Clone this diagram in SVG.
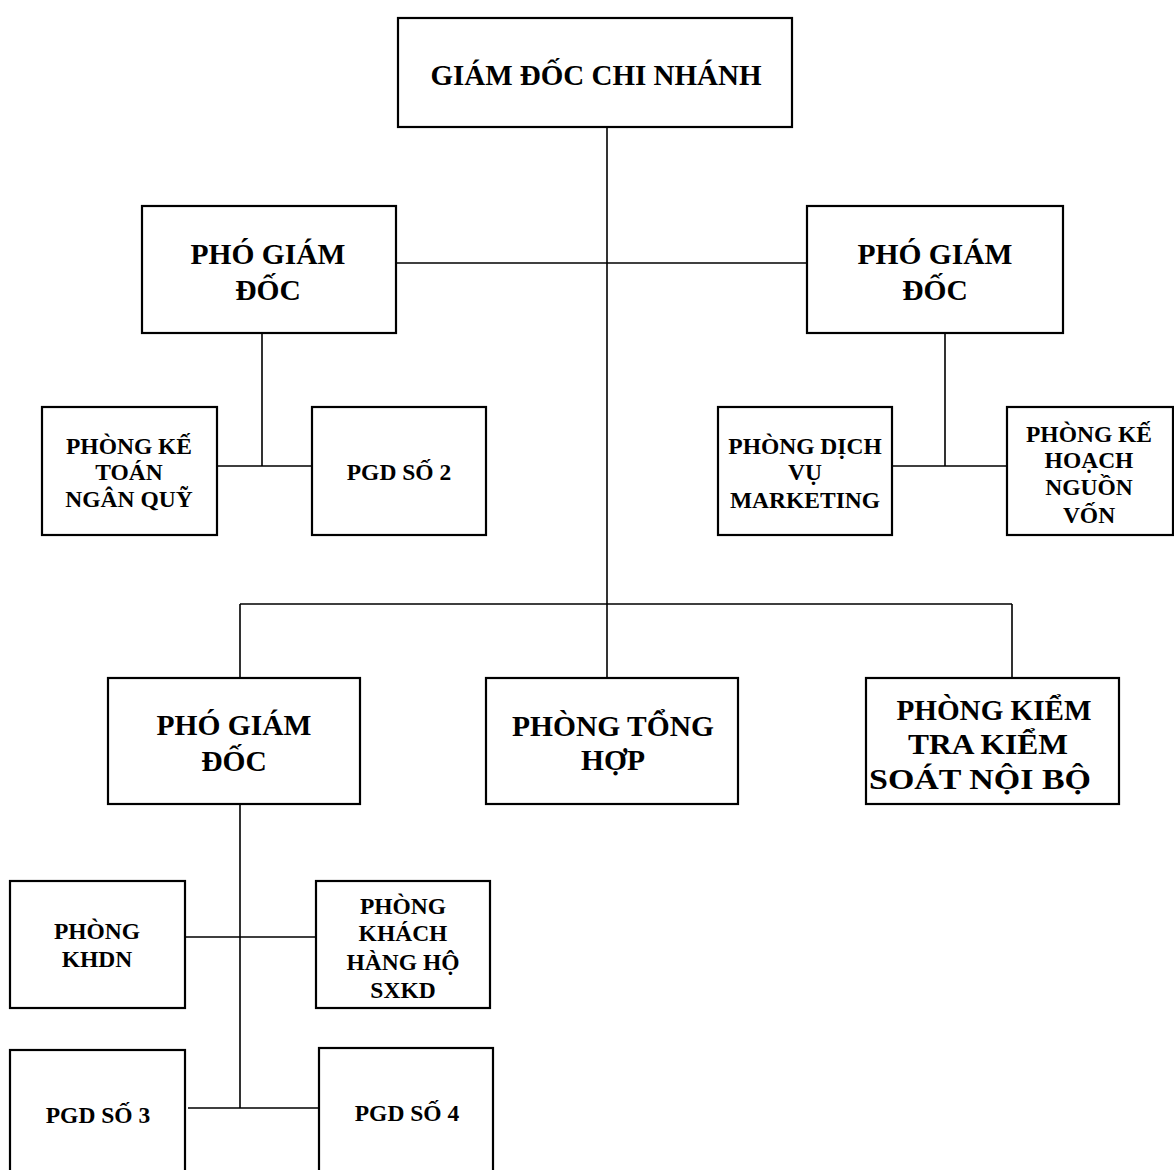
<svg xmlns="http://www.w3.org/2000/svg" width="1174" height="1170" viewBox="0 0 1174 1170">
<style>
.box{fill:#fff;stroke:#000;stroke-width:2.2}
.ln{stroke:#000;stroke-width:1.6;fill:none}
text{font-family:"Liberation Serif","Times New Roman",serif;font-weight:bold;fill:#000;text-anchor:middle}
.t26{font-size:29px}
.t28{font-size:29.5px}
.t20{font-size:23.5px}
</style>
<rect width="1174" height="1170" fill="#fff"/>
<g id="connectors">
<path class="ln" d="M607 127V678"/>
<path class="ln" d="M396 263H807"/>
<path class="ln" d="M262 333V466M217 466H312"/>
<path class="ln" d="M945 333V466M892 466H1007"/>
<path class="ln" d="M240 604H1012M240 604V678M1012 604V678"/>
<path class="ln" d="M240 804V1108M185 937H316M188 1108H320"/>
</g>
<g id="gd"><rect class="box" x="398" y="18" width="394" height="109"/><text class="t26" x="596" y="85">GIÁM ĐỐC CHI NHÁNH</text></g>
<g id="pgd1"><rect class="box" x="142" y="206" width="254" height="127"/><text class="t28" x="268" y="264">PHÓ GIÁM</text><text class="t28" x="268" y="300">ĐỐC</text></g>
<g id="pgd2"><rect class="box" x="807" y="206" width="256" height="127"/><text class="t28" x="935" y="264">PHÓ GIÁM</text><text class="t28" x="935" y="300">ĐỐC</text></g>
<g id="ketoan"><rect class="box" x="42" y="407" width="175" height="128"/><text class="t20" x="129" y="454">PHÒNG KẾ</text><text class="t20" x="129" y="480">TOÁN</text><text class="t20" x="129" y="507">NGÂN QUỸ</text></g>
<g id="pgds2"><rect class="box" x="312" y="407" width="174" height="128"/><text class="t20" x="399" y="480">PGD SỐ 2</text></g>
<g id="marketing"><rect class="box" x="718" y="407" width="174" height="128"/><text class="t20" x="805" y="454">PHÒNG DỊCH</text><text class="t20" x="805" y="480">VỤ</text><text class="t20" x="805" y="508">MARKETING</text></g>
<g id="nguonvon"><rect class="box" x="1007" y="407" width="166" height="128"/><text class="t20" x="1089" y="442">PHÒNG KẾ</text><text class="t20" x="1089" y="468">HOẠCH</text><text class="t20" x="1089" y="495">NGUỒN</text><text class="t20" x="1089" y="523">VỐN</text></g>
<g id="pgd3"><rect class="box" x="108" y="678" width="252" height="126"/><text class="t28" x="234" y="735">PHÓ GIÁM</text><text class="t28" x="234" y="771">ĐỐC</text></g>
<g id="tonghop"><rect class="box" x="486" y="678" width="252" height="126"/><text class="t28" x="613" y="736">PHÒNG TỔNG</text><text class="t28" x="613" y="770">HỢP</text></g>
<g id="kiemtra"><rect class="box" x="866" y="678" width="253" height="126"/><text class="t28" x="994" y="720" textLength="195" lengthAdjust="spacingAndGlyphs">PHÒNG KIỂM</text><text class="t28" x="988" y="754" textLength="160" lengthAdjust="spacingAndGlyphs">TRA KIỂM</text><text class="t28" x="980" y="789" textLength="222" lengthAdjust="spacingAndGlyphs">SOÁT NỘI BỘ</text></g>
<g id="khdn"><rect class="box" x="10" y="881" width="175" height="127"/><text class="t20" x="97" y="939">PHÒNG</text><text class="t20" x="97" y="967">KHDN</text></g>
<g id="sxkd"><rect class="box" x="316" y="881" width="174" height="127"/><text class="t20" x="403" y="914">PHÒNG</text><text class="t20" x="403" y="941">KHÁCH</text><text class="t20" x="403" y="970">HÀNG HỘ</text><text class="t20" x="403" y="998">SXKD</text></g>
<g id="pgds3"><rect class="box" x="10" y="1050" width="175" height="130"/><text class="t20" x="98" y="1123">PGD SỐ 3</text></g>
<g id="pgds4"><rect class="box" x="319" y="1048" width="174" height="132"/><text class="t20" x="407" y="1121">PGD SỐ 4</text></g>
</svg>
